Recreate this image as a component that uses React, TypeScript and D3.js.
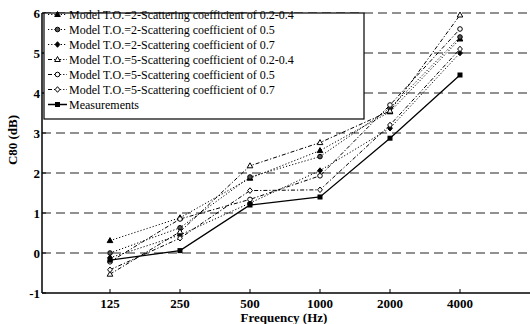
import React from "react";
import * as d3 from "d3";

// frequencies (Hz) on x, C80 (dB) on y
const freqs = [125, 250, 500, 1000, 2000, 4000];
const yTicks = [-1, 0, 1, 2, 3, 4, 5, 6];

const to2_s24 = [0.31, 0.88, 1.87, 2.56, 3.53, 5.35];
const to2_s5 = [0.0, 0.63, 1.9, 2.41, 3.62, 5.4];
const to2_s7 = [-0.12, 0.45, 1.25, 2.06, 3.12, 5.0];
const to5_s24 = [-0.53, 0.53, 2.18, 2.76, 3.55, 5.95];
const to5_s5 = [-0.22, 0.85, 1.34, 1.93, 3.7, 5.6];
const to5_s7 = [-0.42, 0.37, 1.56, 1.58, 3.2, 5.1];
const measured = [-0.18, 0.06, 1.2, 1.4, 2.87, 4.45];

const seriesNames = [
  "Model T.O.=2-Scattering coefficient of 0.2-0.4",
  "Model T.O.=2-Scattering coefficient of 0.5",
  "Model T.O.=2-Scattering coefficient of 0.7",
  "Model T.O.=5-Scattering coefficient of 0.2-0.4",
  "Model T.O.=5-Scattering coefficient of 0.5",
  "Model T.O.=5-Scattering coefficient of 0.7",
  "Measurements",
];
const seriesValues = [to2_s24, to2_s5, to2_s7, to5_s24, to5_s5, to5_s7, measured];
const seriesMarker = ["tri", "circ", "diam", "tri", "circ", "diam", "sq"];
const seriesFilled = [true, true, true, false, false, false, true];
const seriesDash = ["1.2,2", "1.2,2", "1.2,2", "4,2,1.2,2", "4,2,1.2,2", "4,2,1.2,2", null];

const font = '"Liberation Serif", "Times New Roman", "DejaVu Serif", serif';

const Marker = ({ type, filled, x, y }: any) => {
  const fill = filled ? "#000" : "#fff";
  if (type === "tri") {
    const p = d3.path();
    p.moveTo(x, y - 3);
    p.lineTo(x + 2.8, y + 2);
    p.lineTo(x - 2.8, y + 2);
    p.closePath();
    return <path d={p.toString()} fill={fill} stroke="#000" strokeWidth={1} />;
  }
  if (type === "circ") {
    return <circle cx={x} cy={y} r={2.3} fill={filled ? "#555" : "#fff"} stroke="#000" strokeWidth={1} />;
  }
  if (type === "diam") {
    const p = d3.path();
    p.moveTo(x, y - 2.8);
    p.lineTo(x + 2.4, y);
    p.lineTo(x, y + 2.8);
    p.lineTo(x - 2.4, y);
    p.closePath();
    return <path d={p.toString()} fill={fill} stroke="#000" strokeWidth={1} />;
  }
  return <rect x={x - 2.5} y={y - 2.5} width={5} height={5} fill="#000" />;
};

export default function App() {
  const width = 530;
  const height = 324;
  const left = 42;
  const top = 13;
  const bottom = 293;

  const x = d3.scaleLog().base(2).domain([62.5, 8000]).range([40, 530]);
  const y = d3.scaleLinear().domain([-1, 6]).range([bottom, top]);

  const line = d3
    .line<number>()
    .x((_, i) => x(freqs[i]))
    .y((d) => y(d));

  const txt = { fontFamily: font };

  return (
    <svg
      width={width}
      height={height}
      style={{ position: "absolute", left: 0, top: 0, background: "#fff", fontFamily: font }}
    >
      {/* dashed grid */}
      {yTicks
        .filter((t) => t > -1)
        .map((t) => (
          <line
            key={"g" + t}
            x1={left}
            x2={width}
            y1={y(t)}
            y2={y(t)}
            stroke="#6e6e6e"
            strokeWidth={1.3}
            strokeDasharray="9,5"
          />
        ))}

      {/* axes */}
      <line x1={left} x2={left} y1={top} y2={bottom} stroke="#000" strokeWidth={1.5} />
      <line x1={left} x2={width} y1={bottom} y2={bottom} stroke="#000" strokeWidth={1.5} />
      {yTicks.map((t) => (
        <g key={"y" + t}>
          <line x1={left} x2={left + 4} y1={y(t)} y2={y(t)} stroke="#000" />
          <text
            x={left - 2}
            y={y(t)}
            dy="0.35em"
            textAnchor="end"
            fontSize={13}
            fontWeight="bold"
            style={txt}
          >
            {t}
          </text>
        </g>
      ))}
      {freqs.map((f) => (
        <g key={"x" + f}>
          <line x1={x(f)} x2={x(f)} y1={bottom} y2={bottom - 4} stroke="#000" />
          <text x={x(f)} y={bottom + 15} textAnchor="middle" fontSize={13} fontWeight="bold" style={txt}>
            {f}
          </text>
        </g>
      ))}
      <text x={284} y={bottom + 29} textAnchor="middle" fontSize={13} fontWeight="bold" style={txt}>
        Frequency (Hz)
      </text>
      <text
        transform={`translate(17, 140) rotate(-90)`}
        textAnchor="middle"
        fontSize={13}
        fontWeight="bold"
        style={txt}
      >
        C80 (dB)
      </text>

      {/* series */}
      {seriesValues.map((vals, si) => (
        <g key={"s" + si}>
          <path
            d={line(vals) || ""}
            fill="none"
            stroke="#000"
            strokeWidth={si === 6 ? 1.3 : 1}
            strokeDasharray={seriesDash[si] || undefined}
          />
          {vals.map((v, i) => (
            <Marker
              key={i}
              type={seriesMarker[si]}
              filled={seriesFilled[si]}
              x={x(freqs[i])}
              y={y(v)}
            />
          ))}
        </g>
      ))}

      {/* legend */}
      <rect x={44} y={top} width={320} height={106} fill="#fff" stroke="#000" strokeWidth={1.2} />
      {seriesNames.map((name, i) => {
        const ly = 14.5 + i * 15;
        return (
          <g key={"l" + i}>
            <line
              x1={48}
              x2={67}
              y1={ly}
              y2={ly}
              stroke="#000"
              strokeWidth={i === 6 ? 1.5 : 1}
              strokeDasharray={seriesDash[i] || undefined}
            />
            <Marker type={seriesMarker[i]} filled={seriesFilled[i]} x={57.5} y={ly} />
            <text x={69} y={ly} dy="0.35em" fontSize={12} style={txt}>
              {name}
            </text>
          </g>
        );
      })}
    </svg>
  );
}
